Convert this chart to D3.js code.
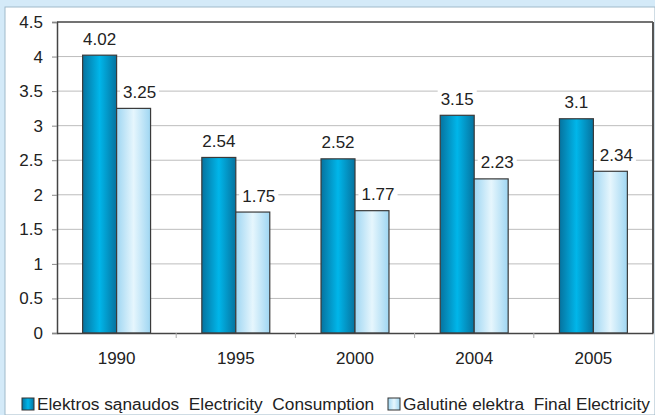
<!DOCTYPE html>
<html><head><meta charset="utf-8">
<script src="https://cdn.jsdelivr.net/npm/d3@7"></script>
<style>
html,body{margin:0;padding:0;background:#d4eaf8;}
svg{display:block;font-family:"Liberation Sans",Arial,sans-serif;}
</style></head>
<body>
<svg id="c" width="655" height="415"></svg>
<script>
const years = ["1990","1995","2000","2004","2005"];
const consumption = [4.02, 2.54, 2.52, 3.15, 3.1];
const finalElectricity = [3.25, 1.75, 1.77, 2.23, 2.34];
const yTicks = [0,0.5,1,1.5,2,2.5,3,3.5,4,4.5];
const seriesNames = ["Elektros sąnaudos  Electricity  Consumption", "Galutinė elektra  Final Electricity"];

const svg = d3.select("#c");
const W = 655, H = 415;
const m = {left:57, right:2, top:22, bottom:82};
const FS = 17;

// white panel
svg.append("rect").attr("x",5).attr("y",7).attr("width",W-5).attr("height",H-7)
  .attr("fill","#fff").attr("stroke","#9fb9c9").attr("stroke-width",1);

const defs = svg.append("defs");
function grad(id, edge, mid){
  const g = defs.append("linearGradient").attr("id",id).attr("x1","0%").attr("x2","100%").attr("y1","0%").attr("y2","0%");
  g.append("stop").attr("offset","0%").attr("stop-color",edge);
  g.append("stop").attr("offset","50%").attr("stop-color",mid);
  g.append("stop").attr("offset","100%").attr("stop-color",edge);
}
grad("gDark","#06739f","#00b6ea");
grad("gLight","#9fd6f2","#e6f6fd");

const x0 = d3.scaleBand().domain(years).range([m.left, W-m.right]).paddingInner(0).paddingOuter(0);
const x1 = d3.scaleBand().domain([0,1]).range([0, x0.bandwidth()*0.57]);
const offset = (x0.bandwidth() - x0.bandwidth()*0.57)/2;
const y = d3.scaleLinear().domain([0,4.5]).range([H-m.bottom, m.top]);

// gridlines
svg.append("g").selectAll("line").data(yTicks.filter(d=>d>0 && d<4.5)).join("line")
  .attr("x1",m.left).attr("x2",W-m.right).attr("y1",d=>y(d)).attr("y2",d=>y(d))
  .attr("stroke","#bdbdbd").attr("stroke-width",1);

// frame top/right
svg.append("line").attr("x1",m.left).attr("x2",W-m.right).attr("y1",y(4.5)).attr("y2",y(4.5)).attr("stroke","#444").attr("stroke-width",1.5);
svg.append("line").attr("x1",W-m.right).attr("x2",W-m.right).attr("y1",y(4.5)).attr("y2",y(0)).attr("stroke","#555").attr("stroke-width",2);

// bars
const data = years.map((yr,i)=>({yr, vals:[consumption[i], finalElectricity[i]]}));
const groups = svg.append("g").selectAll("g").data(data).join("g")
  .attr("transform",d=>`translate(${x0(d.yr)+offset},0)`);
groups.selectAll("rect").data(d=>d.vals.map((v,k)=>({v,k}))).join("rect")
  .attr("x",d=>x1(d.k)).attr("width",x1.bandwidth())
  .attr("y",d=>y(d.v)).attr("height",d=>y(0)-y(d.v))
  .attr("fill",d=>d.k===0?"url(#gDark)":"url(#gLight)")
  .attr("stroke","#3a3a3a").attr("stroke-width",1.2);

// value labels with white background
groups.selectAll("g.lbl").data(d=>d.vals.map((v,k)=>({v,k}))).join("g").attr("class","lbl")
  .each(function(d){
    const g = d3.select(this);
    const cx = x1(d.k)+x1.bandwidth()/2 + (d.k===1?6:0);
    const cy = y(d.v)-16;
    const t = g.append("text").attr("x",cx).attr("y",cy).attr("text-anchor","middle")
      .attr("dominant-baseline","central").attr("font-size",FS).attr("fill","#222").text(String(d.v));
    const bb = t.node().getBBox();
    g.insert("rect","text").attr("x",bb.x-3).attr("y",bb.y).attr("width",bb.width+6).attr("height",bb.height).attr("fill","#fff");
  });

// y axis
const ya = svg.append("g").attr("transform",`translate(${m.left},0)`)
  .call(d3.axisLeft(y).tickValues(yTicks).tickFormat(d3.format("")).tickSize(5).tickPadding(9));
ya.select(".domain").attr("stroke","#444").attr("stroke-width",1.5);
ya.selectAll(".tick line").attr("stroke","#888");
ya.selectAll("text").attr("font-size",FS).attr("fill","#222").attr("font-family","Liberation Sans, Arial, sans-serif");

// x axis
const xa = svg.append("g").attr("transform",`translate(0,${y(0)})`)
  .call(d3.axisBottom(x0).tickSize(0).tickPadding(19));
xa.select(".domain").attr("stroke","#444").attr("stroke-width",1.5);
xa.selectAll("text").attr("font-size",FS).attr("fill","#222").attr("font-family","Liberation Sans, Arial, sans-serif");
// category boundary ticks
svg.append("g").selectAll("line").data(years.map(d=>x0(d)).slice(1)).join("line")
  .attr("x1",d=>d).attr("x2",d=>d).attr("y1",y(0)).attr("y2",y(0)+5).attr("stroke","#aaa");

// legend
const leg = svg.append("g");
const legX = [22, 388];
seriesNames.forEach((n,i)=>{
  leg.append("rect").attr("x",legX[i]).attr("y",398).attr("width",12).attr("height",12)
    .attr("fill",i===0?"url(#gDark)":"url(#gLight)").attr("stroke","#333").attr("stroke-width",1);
  leg.append("text").attr("x",legX[i]+15).attr("y",410)
    .attr("font-size",17.3).attr("fill","#222").attr("xml:space","preserve").style("white-space","pre").text(n);
});
</script>
</body></html>
